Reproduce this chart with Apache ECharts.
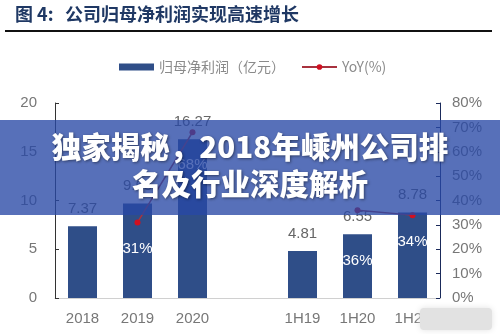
<!DOCTYPE html>
<html><head><meta charset="utf-8">
<script src="https://cdn.jsdelivr.net/npm/echarts@6/dist/echarts.min.js"></script>
<style>html,body{margin:0;padding:0;background:#fff}#c{width:500px;height:334px}</style>
</head><body><div id="c"></div>
<script>
const categories = ['2018', '2019', '2020', '', '1H19', '1H20', '1H21'];
const profit = [7.37, 9.68, 16.27, null, 4.81, 6.55, 8.78];
const yoy = [null, 31, 68, null, null, 36, 34];
const leftTicks = [0, 5, 10, 15, 20];
const rightTicks = [0, 10, 20, 30, 40, 50, 60, 70, 80];

const yoyLabelDist = [0, 16, 22, 0, 0, 40, 16];
const chart = echarts.init(document.getElementById('c'));
const numFont = '"Liberation Sans", Arial, sans-serif';
const cjkFont = '"Noto Sans CJK SC", sans-serif';

chart.setOption({
  animation: false,
  grid: { left: 55, right: 60, top: 103, bottom: 36 },
  legend: {
    left: 114, top: 55, itemGap: 16,
    textStyle: { color: '#8a8a8a', fontSize: 14, fontFamily: cjkFont },
    data: [
      { name: '归母净利润（亿元）', icon: 'rect' },
      { name: 'YoY(%)' }
    ],
    itemWidth: 35, itemHeight: 7
  },
  xAxis: {
    type: 'category', data: categories,
    axisLine: { lineStyle: { color: '#d0d0d0' } },
    axisTick: { lineStyle: { color: '#d0d0d0' }, length: 4, inside: true },
    axisLabel: { color: '#777', fontSize: 15, fontFamily: numFont, margin: 13 }
  },
  yAxis: [
    { type: 'value', min: leftTicks[0], max: leftTicks[leftTicks.length-1], interval: 5,
      splitLine: { show: false },
      axisLine: { show: true, lineStyle: { color: '#333' } },
      axisTick: { show: true, inside: true, length: 4, lineStyle: { color: '#333' } },
      axisLabel: { color: '#777', fontSize: 15, fontFamily: numFont, margin: 18 } },
    { type: 'value', min: rightTicks[0], max: rightTicks[rightTicks.length-1], interval: 10,
      splitLine: { show: false },
      axisLine: { show: true, lineStyle: { color: '#1a2a5a' } },
      axisTick: { show: true, inside: true, length: 4, lineStyle: { color: '#1a2a5a' } },
      axisLabel: { color: '#777', fontSize: 15, fontFamily: numFont, margin: 12, formatter: '{value}%' } }
  ],
  series: [
    { name: '归母净利润（亿元）', type: 'bar', data: profit, barWidth: 29,
      itemStyle: { color: '#2f4e88' },
      label: { show: true, position: 'top', distance: 10, color: '#666', fontSize: 15, fontFamily: numFont } },
    { name: 'YoY(%)', type: 'line', yAxisIndex: 1, z: 5,
      data: yoy.map((v, i) => v == null ? null : {
        value: v,
        label: { distance: yoyLabelDist[i] }
      }),
      connectNulls: false,
      symbol: 'circle', symbolSize: 6,
      lineStyle: { color: '#a8323e', width: 1.5 },
      itemStyle: { color: '#d01020' },
      label: { show: true, position: 'bottom', color: '#ffffff', fontSize: 15, fontFamily: numFont, formatter: '{c}%' } }
  ],
  graphic: [
    { type: 'text', left: 15, top: 5, z: 100,
      style: { text: '图 4:', fill: '#1f3864', font: 'bold 18px "Noto Sans CJK SC", sans-serif' } },
    { type: 'text', left: 65, top: 5, z: 100,
      style: { text: '公司归母净利润实现高速增长', fill: '#1f3864', font: 'bold 18px "Noto Sans CJK SC", sans-serif' } },
    { type: 'rect', left: 5, top: 30, z: 100, shape: { width: 487, height: 2 }, style: { fill: '#111' } },
    { type: 'rect', left: 0, top: 120, z: 200, shape: { width: 500, height: 95 }, style: { fill: 'rgba(40,72,165,0.78)' } },
    { type: 'text', left: 'center', top: 132, z: 201,
      style: { text: '独家揭秘，2018年嵊州公司排', fill: '#fff', font: '900 29.5px "Noto Sans CJK SC", sans-serif',
        textShadowColor: 'rgba(0,0,0,0.45)', textShadowBlur: 3, textShadowOffsetX: 1, textShadowOffsetY: 1 } },
    { type: 'text', left: 'center', top: 169, z: 201,
      style: { text: '名及行业深度解析', fill: '#fff', font: '900 29.5px "Noto Sans CJK SC", sans-serif',
        textShadowColor: 'rgba(0,0,0,0.45)', textShadowBlur: 3, textShadowOffsetX: 1, textShadowOffsetY: 1 } },
    { type: 'rect', left: 420, top: 308, z: 150, shape: { width: 72, height: 22, r: 4 },
      style: { fill: '#e2e2e2', shadowBlur: 6, shadowColor: '#e2e2e2' } }
  ]
});
</script></body></html>
